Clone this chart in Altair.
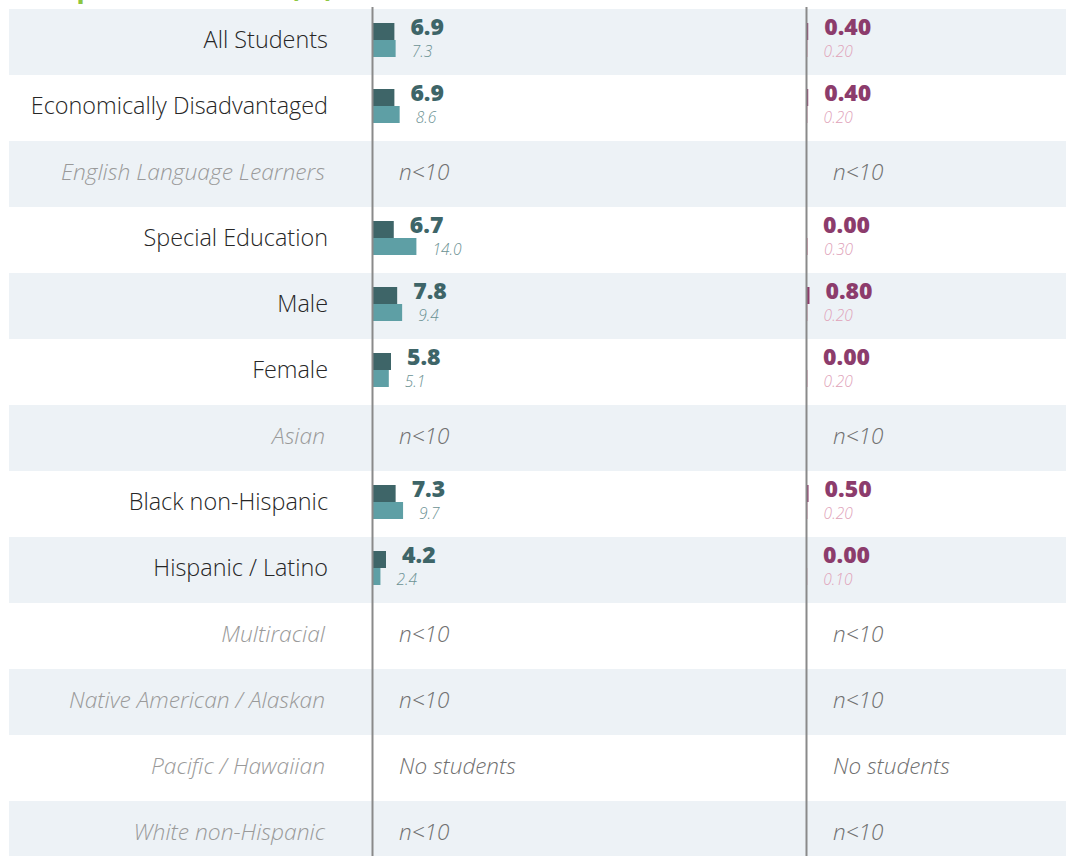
import altair as alt
import pandas as pd

# ---- data ----
categories = [
    "All Students", "Economically Disadvantaged", "English Language Learners",
    "Special Education", "Male", "Female", "Asian", "Black non-Hispanic",
    "Hispanic / Latino", "Multiracial", "Native American / Alaskan",
    "Pacific / Hawaiian", "White non-Hispanic",
]
notes = ["", "", "n<10", "", "", "", "n<10", "", "", "n<10", "n<10", "No students", "n<10"]

left_school = [6.9, 6.9, None, 6.7, 7.8, 5.8, None, 7.3, 4.2, None, None, None, None]
left_compare = [7.3, 8.6, None, 14.0, 9.4, 5.1, None, 9.7, 2.4, None, None, None, None]
right_school = [0.40, 0.40, None, 0.00, 0.80, 0.00, None, 0.50, 0.00, None, None, None, None]
right_compare = [0.20, 0.20, None, 0.30, 0.20, 0.20, None, 0.20, 0.10, None, None, None, None]

title_text = "Discipline Incidents (%)"

# ---- tables ----
rows_df = pd.DataFrame({"category": categories, "note": notes, "idx": list(range(len(categories)))})

recs = []
for i, c in enumerate(categories):
    if notes[i]:
        continue
    recs.append({"category": c, "panel": "left", "series": "school", "value": left_school[i]})
    recs.append({"category": c, "panel": "left", "series": "compare", "value": left_compare[i]})
    recs.append({"category": c, "panel": "right", "series": "school", "value": right_school[i]})
    recs.append({"category": c, "panel": "right", "series": "compare", "value": right_compare[i]})
vals = pd.DataFrame(recs)

FONT = "Open Sans"
DARK_TEAL = "#3e6568"
LIGHT_TEAL = "#5e9fa5"
TEAL_TEXT2 = "#6b9193"
MAGENTA = "#8c3c6c"
PINK = "#e0a2b9"

Y = alt.Y("category:N", scale=alt.Scale(domain=categories, range=[9, 867], padding=0), axis=None)
XL = alt.X("value:Q", scale=alt.Scale(domain=[0, 100], range=[373, 683]), axis=None)
XR = alt.X("value:Q", scale=alt.Scale(domain=[0, 100], range=[807, 1117]), axis=None)

bands = alt.Chart(rows_df).transform_filter("datum.idx % 2 == 0").mark_rect(color="#edf2f6").encode(
    x=alt.value(9), x2=alt.value(1066), y=Y)

lab_main = alt.Chart(rows_df).transform_filter("datum.note == ''").mark_text(
    align="right", baseline="middle", font=FONT, fontSize=23.4, fontWeight=300, color="#262626", dy=-1
).encode(x=alt.value(328), y=Y, text="category:N")

lab_na = alt.Chart(rows_df).transform_filter("datum.note != ''").mark_text(
    align="right", baseline="middle", font=FONT, fontSize=22.8, fontWeight=300, fontStyle="italic",
    color="#9a9a9a", dy=-1
).encode(x=alt.value(325), y=Y, text="category:N")

note_l = alt.Chart(rows_df).transform_filter("datum.note != ''").mark_text(
    align="left", baseline="middle", font=FONT, fontSize=22.5, fontWeight=300, fontStyle="italic",
    color="#707070", dy=-1
).encode(x=alt.value(399), y=Y, text="note:N")
note_r = note_l.encode(x=alt.value(833), y=Y, text="note:N")


def panel(panel_name, X, c_dark, c_light, c_txt1, c_txt2, fmt):
    d = alt.Chart(vals).transform_filter(f"datum.panel == '{panel_name}'")
    b1 = d.transform_filter("datum.series == 'school'").mark_bar(size=17, yOffset=-10.5, color=c_dark).encode(x=X, y=Y)
    b2 = d.transform_filter("datum.series == 'compare'").mark_bar(size=17, yOffset=6.5, color=c_light).encode(x=X, y=Y)
    t1 = d.transform_filter("datum.series == 'school'").mark_text(
        align="left", baseline="middle", dx=16, dy=-14, font=FONT, fontSize=23, fontWeight=800, color=c_txt1
    ).encode(x=X, y=Y, text=alt.Text("value:Q", format=fmt))
    t2 = d.transform_filter("datum.series == 'compare'").mark_text(
        align="left", baseline="middle", dx=16, dy=10, font=FONT, fontSize=15.5, fontWeight=300,
        fontStyle="italic", color=c_txt2
    ).encode(x=X, y=Y, text=alt.Text("value:Q", format=fmt))
    return [b1, b2, t1, t2]


left_layers = panel("left", XL, DARK_TEAL, LIGHT_TEAL, DARK_TEAL, TEAL_TEXT2, ".1f")
right_layers = panel("right", XR, MAGENTA, PINK, MAGENTA, PINK, ".2f")

rules_df = pd.DataFrame({"k": ["a"]})
rule_l = alt.Chart(rules_df).mark_rule(color="#8a8a8a", strokeWidth=2).encode(
    x=alt.value(372.5), y=alt.value(7), y2=alt.value(856))
rule_r = alt.Chart(rules_df).mark_rule(color="#8a8a8a", strokeWidth=2).encode(
    x=alt.value(806.5), y=alt.value(7), y2=alt.value(856))

title = alt.Chart(pd.DataFrame({"t": [title_text]})).mark_text(
    align="left", baseline="alphabetic", font=FONT, fontSize=28, fontWeight=700, color="#8dc63f"
).encode(x=alt.value(10), y=alt.value(-3), text="t:N")

chart = alt.layer(
    bands, lab_main, lab_na, note_l, note_r,
    *left_layers, *right_layers, rule_l, rule_r, title
).resolve_scale(x="independent").properties(
    width=1073, height=856, padding=0, autosize="none", background="white"
).configure_view(stroke=None)

chart.save("out.html", embed_options={"renderer": "svg", "actions": False})
